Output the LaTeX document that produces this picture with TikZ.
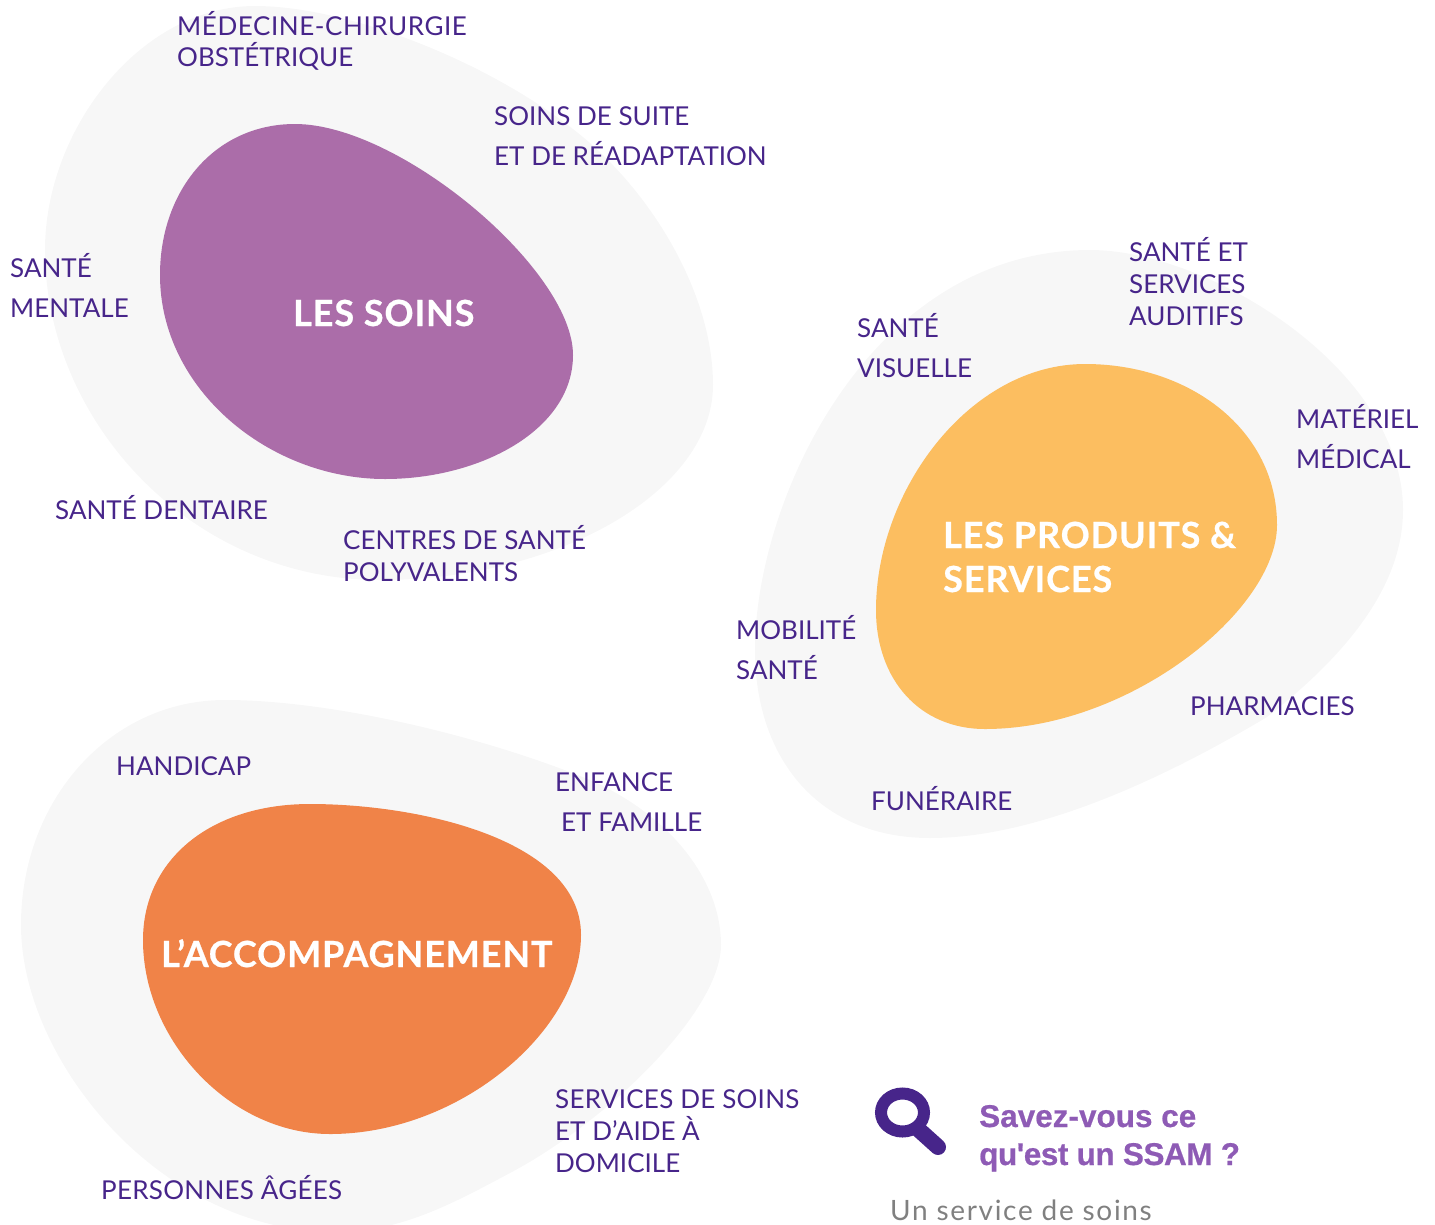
\documentclass[tikz,border=0pt]{standalone}
\usepackage{fontspec}
\setmainfont{Lato}
\newfontfamily\headfont{Liberation Sans}[BoldFeatures={FakeBold=0.6}]
\newfontfamily\greyfont{Lato}[LetterSpace=6]
\newfontfamily\titlefont{Lato}[LetterSpace=2.5,BoldFeatures={FakeBold=0.6}]
\definecolor{halo}{HTML}{F7F7F7}
\definecolor{soins}{HTML}{AB6DA9}
\definecolor{produits}{HTML}{FCBE60}
\definecolor{accomp}{HTML}{F08348}
\definecolor{ink}{HTML}{47258A}
\definecolor{headc}{HTML}{8E5BB5}
\definecolor{greyc}{HTML}{808080}
\tikzset{
 item/.style={anchor=base west,inner sep=0pt,text=ink,font=\fontsize{26}{26}\selectfont},
 title/.style={anchor=base west,inner sep=0pt,text=white,font=\titlefont\fontsize{36}{36}\selectfont\bfseries},
 question/.style={anchor=base west,inner sep=0pt,text=headc,font=\headfont\fontsize{31.5}{31.5}\selectfont\bfseries},
}
\begin{document}
\begin{tikzpicture}[x=1pt,y=-1pt]
\useasboundingbox (0,0) rectangle (1435,1224);
\clip (0,0) rectangle (1435,1224);
% halos
\fill[halo] (255,6) .. controls (350,6) and (500,65) .. (590,143)
  .. controls (660,205) and (713,300) .. (713,385)
  .. controls (713,490) and (560,580) .. (380,580)
  .. controls (190,580) and (45,420) .. (45,250)
  .. controls (45,130) and (140,6) .. (255,6) -- cycle;
\fill[halo] (1090,250) .. controls (1210,250) and (1403,370) .. (1403,510)
  .. controls (1403,590) and (1340,660) .. (1267,717)
  .. controls (1170,775) and (1040,838) .. (930,838)
  .. controls (820,838) and (755,760) .. (755,650)
  .. controls (755,500) and (870,250) .. (1090,250) -- cycle;
\fill[halo] (225,700) .. controls (330,700) and (480,735) .. (590,780)
  .. controls (670,815) and (721,880) .. (721,945)
  .. controls (721,1010) and (610,1120) .. (510,1173)
  .. controls (450,1205) and (400,1232) .. (335,1232)
  .. controls (160,1232) and (21,1060) .. (21,925)
  .. controls (21,800) and (110,700) .. (225,700) -- cycle;
% blobs
\fill[soins] (295,124) .. controls (400,124) and (573,270) .. (573,355)
  .. controls (573,430) and (480,479) .. (385,479)
  .. controls (270,479) and (160,390) .. (160,275)
  .. controls (160,190) and (215,124) .. (295,124) -- cycle;
\fill[produits] (1085,364) .. controls (1190,364) and (1277,430) .. (1277,525)
  .. controls (1277,610) and (1130,729) .. (985,729)
  .. controls (920,729) and (876,680) .. (876,610)
  .. controls (876,490) and (970,364) .. (1085,364) -- cycle;
\fill[accomp] (310,804) .. controls (420,804) and (581,840) .. (581,935)
  .. controls (581,1030) and (460,1134) .. (330,1134)
  .. controls (230,1134) and (143,1040) .. (143,940)
  .. controls (143,860) and (210,804) .. (310,804) -- cycle;
% titles
\node[title] (t1) at (293,326) {LES SOINS};
\node[title] (t2a) at (943,548) {LES PRODUITS \&};
\node[title] (t2b) at (943,592) {SERVICES};
\node[title] (t3) at (161,967) {L’ACCOMPAGNEMENT};
% items
\node[item] (a1) at (177,35) {\addfontfeature{LetterSpace=2.2}MÉDECINE-CHIRURGIE};
\node[item] (a2) at (177,66) {OBSTÉTRIQUE};
\node[item] (a3) at (494,125) {SOINS DE SUITE};
\node[item] (a4) at (494,165) {ET DE RÉADAPTATION};
\node[item] (a5) at (10,277) {SANTÉ};
\node[item] (a6) at (10,317) {MENTALE};
\node[item] (a7) at (55,519) {SANTÉ DENTAIRE};
\node[item] (a8) at (343,549) {CENTRES DE SANTÉ};
\node[item] (a9) at (343,581) {POLYVALENTS};
\node[item] (b1) at (1129,261) {SANTÉ ET};
\node[item] (b2) at (1129,293) {SERVICES};
\node[item] (b3) at (1129,325) {AUDITIFS};
\node[item] (b4) at (857,337) {SANTÉ};
\node[item] (b5) at (857,377) {VISUELLE};
\node[item] (b6) at (1296,428) {MATÉRIEL};
\node[item] (b7) at (1296,468) {MÉDICAL};
\node[item] (b8) at (736,639) {MOBILITÉ};
\node[item] (b9) at (736,679) {SANTÉ};
\node[item] (b10) at (1190,715) {PHARMACIES};
\node[item] (b11) at (871,810) {FUNÉRAIRE};
\node[item] (c1) at (116,775) {HANDICAP};
\node[item] (c2) at (555,791) {ENFANCE};
\node[item] (c3) at (561,831) {ET FAMILLE};
\node[item] (c4) at (555,1108) {\addfontfeature{LetterSpace=1}SERVICES DE SOINS};
\node[item] (c5) at (555,1140) {ET D’AIDE À};
\node[item] (c6) at (555,1172) {DOMICILE};
\node[item] (c7) at (101,1199) {\addfontfeature{LetterSpace=1}PERSONNES ÂGÉES};
% magnifier
\draw[ink,line width=12pt] (902.5,1112.5) ellipse [x radius=21.5,y radius=19];
\draw[ink,line width=16pt,line cap=round] (918,1129) -- (938,1147);
% question
\node[question] (q1) at (979,1127) {Savez-vous ce};
\node[question] (q2) at (979,1165) {\addfontfeature{LetterSpace=-1.5}qu'est un SSAM ?};
\node[anchor=base west,inner sep=0pt,text=greyc,font=\greyfont\fontsize{28}{28}\selectfont] (q3) at (890,1220) {Un service de soins};
\end{tikzpicture}
\end{document}
